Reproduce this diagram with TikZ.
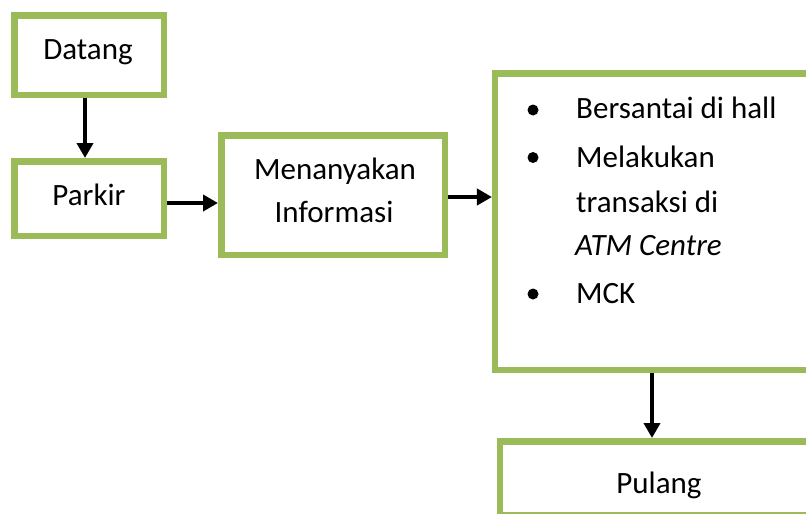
\documentclass[tikz,border=0pt]{standalone}
\usepackage{fontspec}
\setmainfont{Carlito}
\usetikzlibrary{arrows.meta}
\definecolor{boxgreen}{HTML}{9BBB59}
\tikzset{
  flowbox/.style={draw=boxgreen, line width=6.5pt, rectangle, inner sep=0pt,
    fill=white},
  label/.style={inner sep=0pt, anchor=base, font=\fontsize{31}{37}\selectfont},
  listitem/.style={label, anchor=base west},
  flowarrow/.style={line width=4pt, -{Triangle[length=15pt,width=16pt]}},
}
\begin{document}
\begin{tikzpicture}[x=1pt, y=-1pt]
  \useasboundingbox (0,0) rectangle (806,514);
  \clip (0,0) rectangle (806,514);
  \fill[white] (0,0) rectangle (806,514);

  % process boxes
  \node[flowbox, minimum width=149.5pt, minimum height=79.5pt] (datang) at (89,55) {};
  \node[flowbox, minimum width=149.5pt, minimum height=74.5pt] (parkir) at (89,198.5) {};
  \node[flowbox, minimum width=223.5pt, minimum height=119.5pt] (tanya) at (333,195) {};
  \node[flowbox, minimum width=334.75pt, minimum height=296.5pt] (aktivitas) at (662.6,221.5) {};
  \node[flowbox, minimum width=329.75pt, minimum height=74.25pt] (pulang) at (665.1,478.4) {};

  % box texts
  \node[label] (tDatang) at (88,59) {Datang};
  \node[label] (tParkir) at (89,205) {Parkir};
  \node[label] (tTanya1) at (335,179) {Menanyakan};
  \node[label] (tTanya2) at (334,222) {Informasi};
  \node[label] (tPulang) at (659,493) {Pulang};

  % activity list
  \node[listitem] (i1) at (576,118) {Bersantai di hall};
  \node[listitem] (i2) at (576,167) {Melakukan};
  \node[listitem] (i3) at (576,212) {transaksi di};
  \node[listitem] (i4) at (575,255) {\itshape ATM Centre};
  \node[listitem] (i5) at (576,303) {MCK};
  \foreach \by in {110,157.5,294}
    \fill (533,\by) circle (5.5pt);

  % connectors
  \coordinate (c1) at ([xshift=-4pt]datang.south);
  \draw[flowarrow] (c1) -- (c1 |- parkir.north);
  \coordinate (c2) at ([yshift=-4.5pt]parkir.east);
  \draw[flowarrow] (c2) -- (c2 -| tanya.west);
  \coordinate (c3) at ([yshift=-2pt]tanya.east);
  \draw[flowarrow] (c3) -- (c3 -| aktivitas.west);
  \coordinate (c4) at ([xshift=-10.6pt]aktivitas.south);
  \draw[flowarrow] (c4) -- (c4 |- pulang.north);
\end{tikzpicture}
\end{document}
